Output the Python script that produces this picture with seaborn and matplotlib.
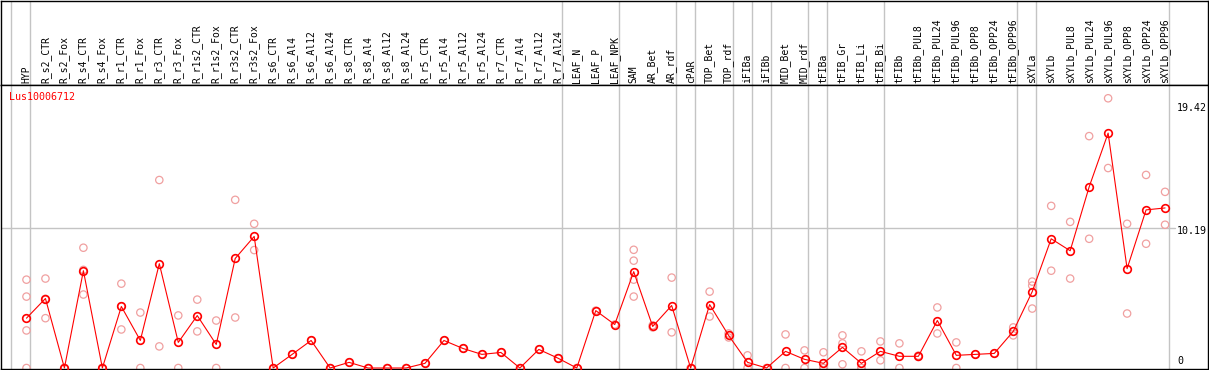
import numpy as np
import pandas as pd
import matplotlib
matplotlib.use("Agg")
import matplotlib.pyplot as plt
import seaborn as sns

conditions = ["HYP", "R_s2_CTR", "R_s2_Fox", "R_s4_CTR", "R_s4_Fox", "R_r1_CTR", "R_r1_Fox",
              "R_r3_CTR", "R_r3_Fox", "R_r1s2_CTR", "R_r1s2_Fox", "R_r3s2_CTR", "R_r3s2_Fox",
              "R_s6_CTR", "R_s6_Al4", "R_s6_Al12", "R_s6_Al24", "R_s8_CTR", "R_s8_Al4",
              "R_s8_Al12", "R_s8_Al24", "R_r5_CTR", "R_r5_Al4", "R_r5_Al12", "R_r5_Al24",
              "R_r7_CTR", "R_r7_Al4", "R_r7_Al12", "R_r7_Al24", "LEAF_N", "LEAF_P", "LEAF_NPK",
              "SAM", "AR_Bet", "AR_rdf", "cPAR", "TOP_Bet", "TOP_rdf", "iFIBa", "iFIBb",
              "MID_Bet", "MID_rdf", "tFIBa", "tFIB_Gr", "tFIB_Li", "tFIB_Bi", "tFIBb",
              "tFIBb_PUL8", "tFIBb_PUL24", "tFIBb_PUL96", "tFIBb_OPP8", "tFIBb_OPP24",
              "tFIBb_OPP96", "sXYLa", "sXYLb", "sXYLb_PUL8", "sXYLb_PUL24", "sXYLb_PUL96",
              "sXYLb_OPP8", "sXYLb_OPP24", "sXYLb_OPP96"]

# mean expression per condition
means = [3.62, 5.05, 0, 7.07, 0, 4.47, 2.0, 7.58, 1.86, 3.81, 1.71, 7.96, 9.56,
         0, 0.99, 2.0, 0, 0.41, 0, 0, 0, 0.34, 2.0, 1.42, 0.99, 1.13, 0, 1.35, 0.72,
         0, 4.17, 3.16, 7.0, 3.02, 4.54, 0, 4.61, 2.37, 0.41, 0, 1.21, 0.63, 0.34,
         1.50, 0.34, 1.21, 0.85, 0.85, 3.45, 0.92, 0.99, 1.06, 2.66, 5.55, 9.39,
         8.52, 13.16, 17.07, 7.22, 11.49, 11.63]

# individual replicates
replicates = [[6.42, 5.19, 2.73, 0], [6.50, 5.03, 3.62], [0, 0, 0], [8.74, 7.13, 5.34],
              [0, 0, 0], [6.13, 4.48, 2.80], [4.03, 0], [13.66, 1.57], [3.82, 0],
              [4.97, 2.66], [3.45, 0], [12.22, 3.67], [10.48, 8.57],
              [0], [0.99], [2.0], [0], [0.41], [0], [0], [0], [0.34], [2.0], [1.42],
              [0.99], [1.13], [0], [1.35], [0.72], [0], [4.17], [3.16],
              [8.59, 7.80, 6.42, 5.19], [3.10, 2.95], [6.57, 2.59], [0], [5.55, 3.74],
              [2.51, 2.22], [0.92, 0], [0], [2.44, 0], [1.28, 0], [1.14, 0, 0],
              [2.37, 1.79, 0.27], [1.21, 0, 0], [1.93, 0.56], [1.79, 0], [0.9, 0.8],
              [4.40, 2.51], [1.86, 0], [0.99], [1.06], [2.95, 2.37], [6.28, 5.99, 4.32],
              [11.78, 7.07], [10.62, 6.50], [16.85, 9.39], [19.60, 14.53], [10.48, 3.96],
              [14.03, 9.03], [12.80, 10.41]]

# last condition of each group (separator drawn right after it)
group_ends = ["HYP", "R_r7_Al24", "LEAF_NPK", "AR_rdf", "cPAR", "TOP_rdf", "iFIBa", "iFIBb",
              "MID_rdf", "tFIBa", "tFIB_Bi", "tFIBb_OPP96", "sXYLa", "sXYLb_OPP96"]

gene = "Lus10006712"
ytick_vals = [19.42, 10.19, 0]
ytick_labels = ["19.42", "10.19", "0"]

mean_df = pd.DataFrame({"pos": np.arange(len(conditions)), "value": means})
rep_df = pd.DataFrame([(i, v) for i, reps in enumerate(replicates) for v in reps],
                      columns=["pos", "value"])

sns.set_style("white")
plt.rcParams["font.family"] = ["DejaVu Sans Mono"]

W, H = 1209, 370
fig = plt.figure(figsize=(W / 100, H / 100), dpi=100)
head_h = 85
ax_head = fig.add_axes([0.5 / W, (H - head_h) / H, 1 - 1.5 / W, head_h / H - 0.5 / H])
ax = fig.add_axes([0.5 / W, 1.0 / H, 1 - 1.5 / W, (H - head_h - 1) / H])

xlim = (-26 / 19, (W - 26) / 19)
for a in (ax_head, ax):
    a.set_xlim(*xlim)
    a.set_xticks([])
    a.set_yticks([])
    for s in a.spines.values():
        s.set_color("black")
        s.set_linewidth(1.0)

ax.set_ylim((369 - 370) / 13.81, (369 - 85) / 13.81)
ax_head.set_ylim(0, 1)

seps = [-1] + [conditions.index(g) for g in group_ends]
for s in seps:
    for a in (ax_head, ax):
        a.axvline(s + 0.21, color="#c4c4c4", lw=1.0, zorder=0)

ax.axhline(10.19, xmin=0, xmax=1176 / W, color="#c4c4c4", lw=1.0, zorder=0)

for i, name in enumerate(conditions):
    ax_head.text(i, 2 / head_h, name, rotation=90, ha="center", va="bottom",
                 fontsize=7, color="black")

sns.scatterplot(data=rep_df, x="pos", y="value", ax=ax, s=28, marker="o",
                color="#f0a0a0", facecolor="none", edgecolor="#f0a0a0",
                linewidth=0.9, zorder=2, clip_on=True, legend=False)
sns.lineplot(data=mean_df, x="pos", y="value", ax=ax, color="#ff0000", lw=0.8,
             marker="o", markersize=5.5, mfc="none", mec="#ff0000", mew=1.2, zorder=3)
ax.set_xlabel("")
ax.set_ylabel("")
ax.set_xlim(*xlim)
ax.set_xticks([])
ax.set_yticks([])

ax.text(9 / W, 1 - 12 / 285, gene, transform=ax.transAxes, ha="left", va="center",
        fontsize=7.2, color="#ff0000")

offsets = [-7, -3, 7]
for v, lab, off in zip(ytick_vals, ytick_labels, offsets):
    ax.annotate(lab, xy=(1178 / W, v), xycoords=("axes fraction", "data"),
                xytext=(0, off), textcoords="offset pixels", ha="left", va="center",
                fontsize=7.2, color="black")

fig.savefig("out.png", dpi=100)
